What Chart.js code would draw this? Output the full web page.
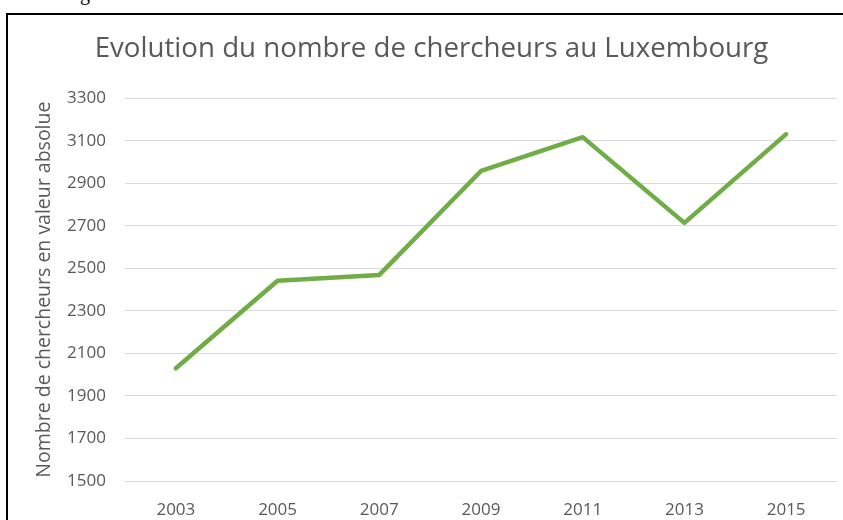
<!DOCTYPE html>
<html lang="fr">
<head>
  <meta charset="UTF-8" />
  <title>Evolution du nombre de chercheurs au Luxembourg</title>
  <script src="https://cdn.jsdelivr.net/npm/chart.js"></script>
  <style>
    body {
      margin: 0;
      background: #fff;
      width: 843px;
      height: 520px;
      overflow: hidden;
      position: relative;
    }

    #frame {
      position: absolute;
      left: 6px;
      top: 13px;
      width: 850px;
      height: 520px;
      border-left: 2px solid #000;
      border-top: 2px solid #000;
    }

    #cut {
      position: absolute;
      left: 80px;
      top: -17px;
      font-family: "Liberation Serif", serif;
      font-size: 20px;
      line-height: 20px;
      color: #000;
    }

    #chart-container {
      position: absolute;
      left: 0;
      top: 0;
      width: 843px;
      height: 520px;
    }
  </style>
</head>
<body>
  <span id="cut">g</span>
  <div id="frame"></div>
  <div id="chart-container">
    <canvas id="myLineChart" width="843" height="520"></canvas>
  </div>

  <script>
    const years = ["2003", "2005", "2007", "2009", "2011", "2013", "2015"];
    const chercheurs = [2030, 2442, 2469, 2958, 3117, 2714, 3131];

    const yMin = 1500;
    const yMax = 3300;
    const yStep = 200;

    const txtColor = "#595959";
    const fontName = "'Open Sans', sans-serif";

    const ctx = document.getElementById("myLineChart").getContext("2d");
    const myLineChart = new Chart(ctx, {
      type: "line",
      data: {
        labels: years,
        datasets: [{
          label: "Chercheurs",
          data: chercheurs,
          borderColor: "#70AD47",
          borderWidth: 4.5,
          borderCapStyle: "round",
          borderJoinStyle: "round",
          pointRadius: 0,
          tension: 0,
          fill: false
        }]
      },
      options: {
        responsive: false,
        animation: false,
        layout: {
          padding: { left: 26, right: 6, top: 0, bottom: 0 }
        },
        plugins: {
          legend: { display: false },
          tooltip: { enabled: false },
          title: {
            display: true,
            text: "Evolution du nombre de chercheurs au Luxembourg",
            color: txtColor,
            font: { family: fontName, size: 27.7, weight: "normal" },
            padding: { top: 32, bottom: 33 }
          }
        },
        scales: {
          x: {
            offset: true,
            grid: { display: false },
            border: { display: false },
            ticks: {
              color: txtColor,
              font: { family: fontName, size: 17 },
              padding: 11,
              maxRotation: 0,
              autoSkip: false
            },
            afterFit: s => { s.height = 39; }
          },
          y: {
            min: yMin,
            max: yMax,
            grid: { color: "#d9d9d9", lineWidth: 1, drawTicks: false },
            border: { display: false },
            ticks: {
              stepSize: yStep,
              color: txtColor,
              font: { family: fontName, size: 17 },
              padding: 19,
              callback: v => String(v)
            },
            title: {
              display: true,
              text: "Nombre de chercheurs en valeur absolue",
              color: txtColor,
              font: { family: fontName, size: 19.5 },
              padding: { top: 7, bottom: 0 }
            },
            afterFit: s => { s.width = 125 - 26; }
          }
        }
      }
    });
  </script>
</body>
</html>
